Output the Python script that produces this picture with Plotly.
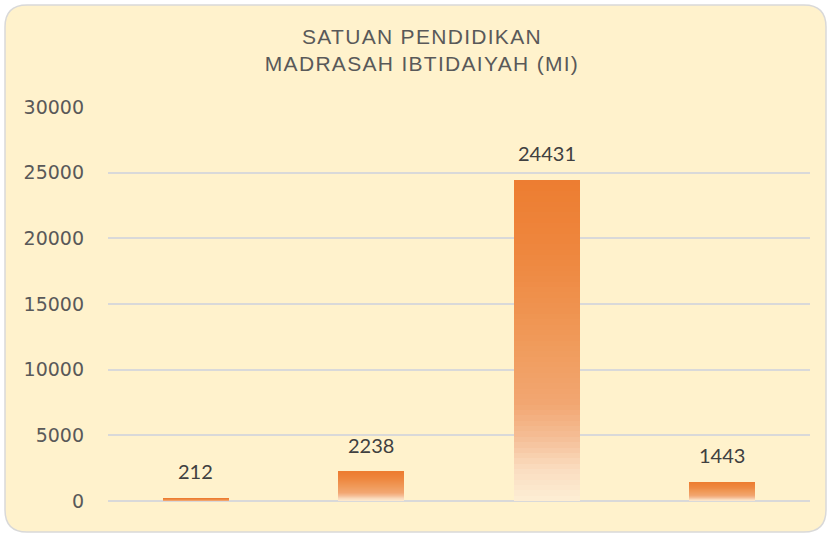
import plotly.graph_objects as go

# ---- data ----
categories = ["Kategori 1", "Kategori 2", "Kategori 3", "Kategori 4"]
values = [212, 2238, 24431, 1443]
title_lines = ["SATUAN PENDIDIKAN", "MADRASAH IBTIDAIYAH (MI)"]
y_ticks = [0, 5000, 10000, 15000, 20000, 25000, 30000]

# ---- gradient (top -> bottom) ----
stops = [
    (0.00, (237, 125, 49)),
    (0.25, (238, 136, 64)),
    (0.50, (240, 154, 90)),
    (0.70, (242, 167, 114)),
    (0.80, (245, 189, 149)),
    (0.90, (250, 221, 192)),
    (1.00, (253, 238, 213)),
]


def grad(t):
    for (t0, c0), (t1, c1) in zip(stops[:-1], stops[1:]):
        if t <= t1:
            f = (t - t0) / (t1 - t0)
            return "rgb(%d,%d,%d)" % tuple(round(a + (b - a) * f) for a, b in zip(c0, c1))
    return "rgb(%d,%d,%d)" % stops[-1][1]


N = 60
fig = go.Figure()
for i in range(N):
    # i = 0 is the bottom segment
    t = 1 - (i + 0.5) / N
    fig.add_trace(go.Bar(
        x=categories,
        y=[v / N for v in values],
        marker=dict(color=grad(t), line=dict(width=0)),
        hoverinfo="skip",
        showlegend=False,
    ))

for c, v in zip(categories, values):
    fig.add_annotation(
        x=c, y=v, text=str(v), showarrow=False, yanchor="bottom", yshift=13,
        font=dict(family="Lato", size=20, color="#404040"),
    )

# rounded background card (pixel geometry -> paper coords)
L, T, W, H = 108, 107, 702, 394


def px(x):
    return (x - L) / W


def py(y):
    return (T + H - y) / H


x0, x1, y0, y1, r = 5, 826, 5, 532, 22
path = (
    f"M {px(x0 + r)} {py(y0)} L {px(x1 - r)} {py(y0)} "
    f"Q {px(x1)} {py(y0)} {px(x1)} {py(y0 + r)} "
    f"L {px(x1)} {py(y1 - r)} Q {px(x1)} {py(y1)} {px(x1 - r)} {py(y1)} "
    f"L {px(x0 + r)} {py(y1)} Q {px(x0)} {py(y1)} {px(x0)} {py(y1 - r)} "
    f"L {px(x0)} {py(y0 + r)} Q {px(x0)} {py(y0)} {px(x0 + r)} {py(y0)} Z"
)
fig.add_shape(type="path", path=path, xref="paper", yref="paper",
              fillcolor="#FFF2CC", line=dict(color="#D9D9D9", width=1.5), layer="below")

fig.update_layout(
    width=828, height=535,
    margin=dict(l=L, r=828 - L - W, t=T, b=535 - T - H),
    paper_bgcolor="white", plot_bgcolor="rgba(0,0,0,0)",
    barmode="stack", bargap=0.624,
    title=dict(
        text="<br>".join(title_lines),
        x=422 / 828, xref="container", xanchor="center",
        y=1 - 44 / 535, yref="container", yanchor="top",
        font=dict(family="Liberation Sans", size=21, color="#595959"),
    ),
    xaxis=dict(range=[-0.5, 3.5], showticklabels=False, showgrid=False,
               zeroline=False, showline=False, ticks=""),
    yaxis=dict(range=[0, 30000], tickvals=y_ticks, ticktext=[str(v) for v in y_ticks],
               showgrid=True, gridcolor="#D9D9D9", gridwidth=1.5,
               zeroline=True, zerolinecolor="#D9D9D9", zerolinewidth=1.5,
               showline=False, ticks="", ticklabelstandoff=23,
               tickfont=dict(family="DejaVu Sans", size=19, color="#595959")),
)

post = (
    "document.body.style.margin='0';"
    "document.querySelectorAll('.gtitle').forEach(function(e){e.style.letterSpacing='1.3px';});"
)
fig.write_html("out.html", post_script=post, config={"displayModeBar": False})
